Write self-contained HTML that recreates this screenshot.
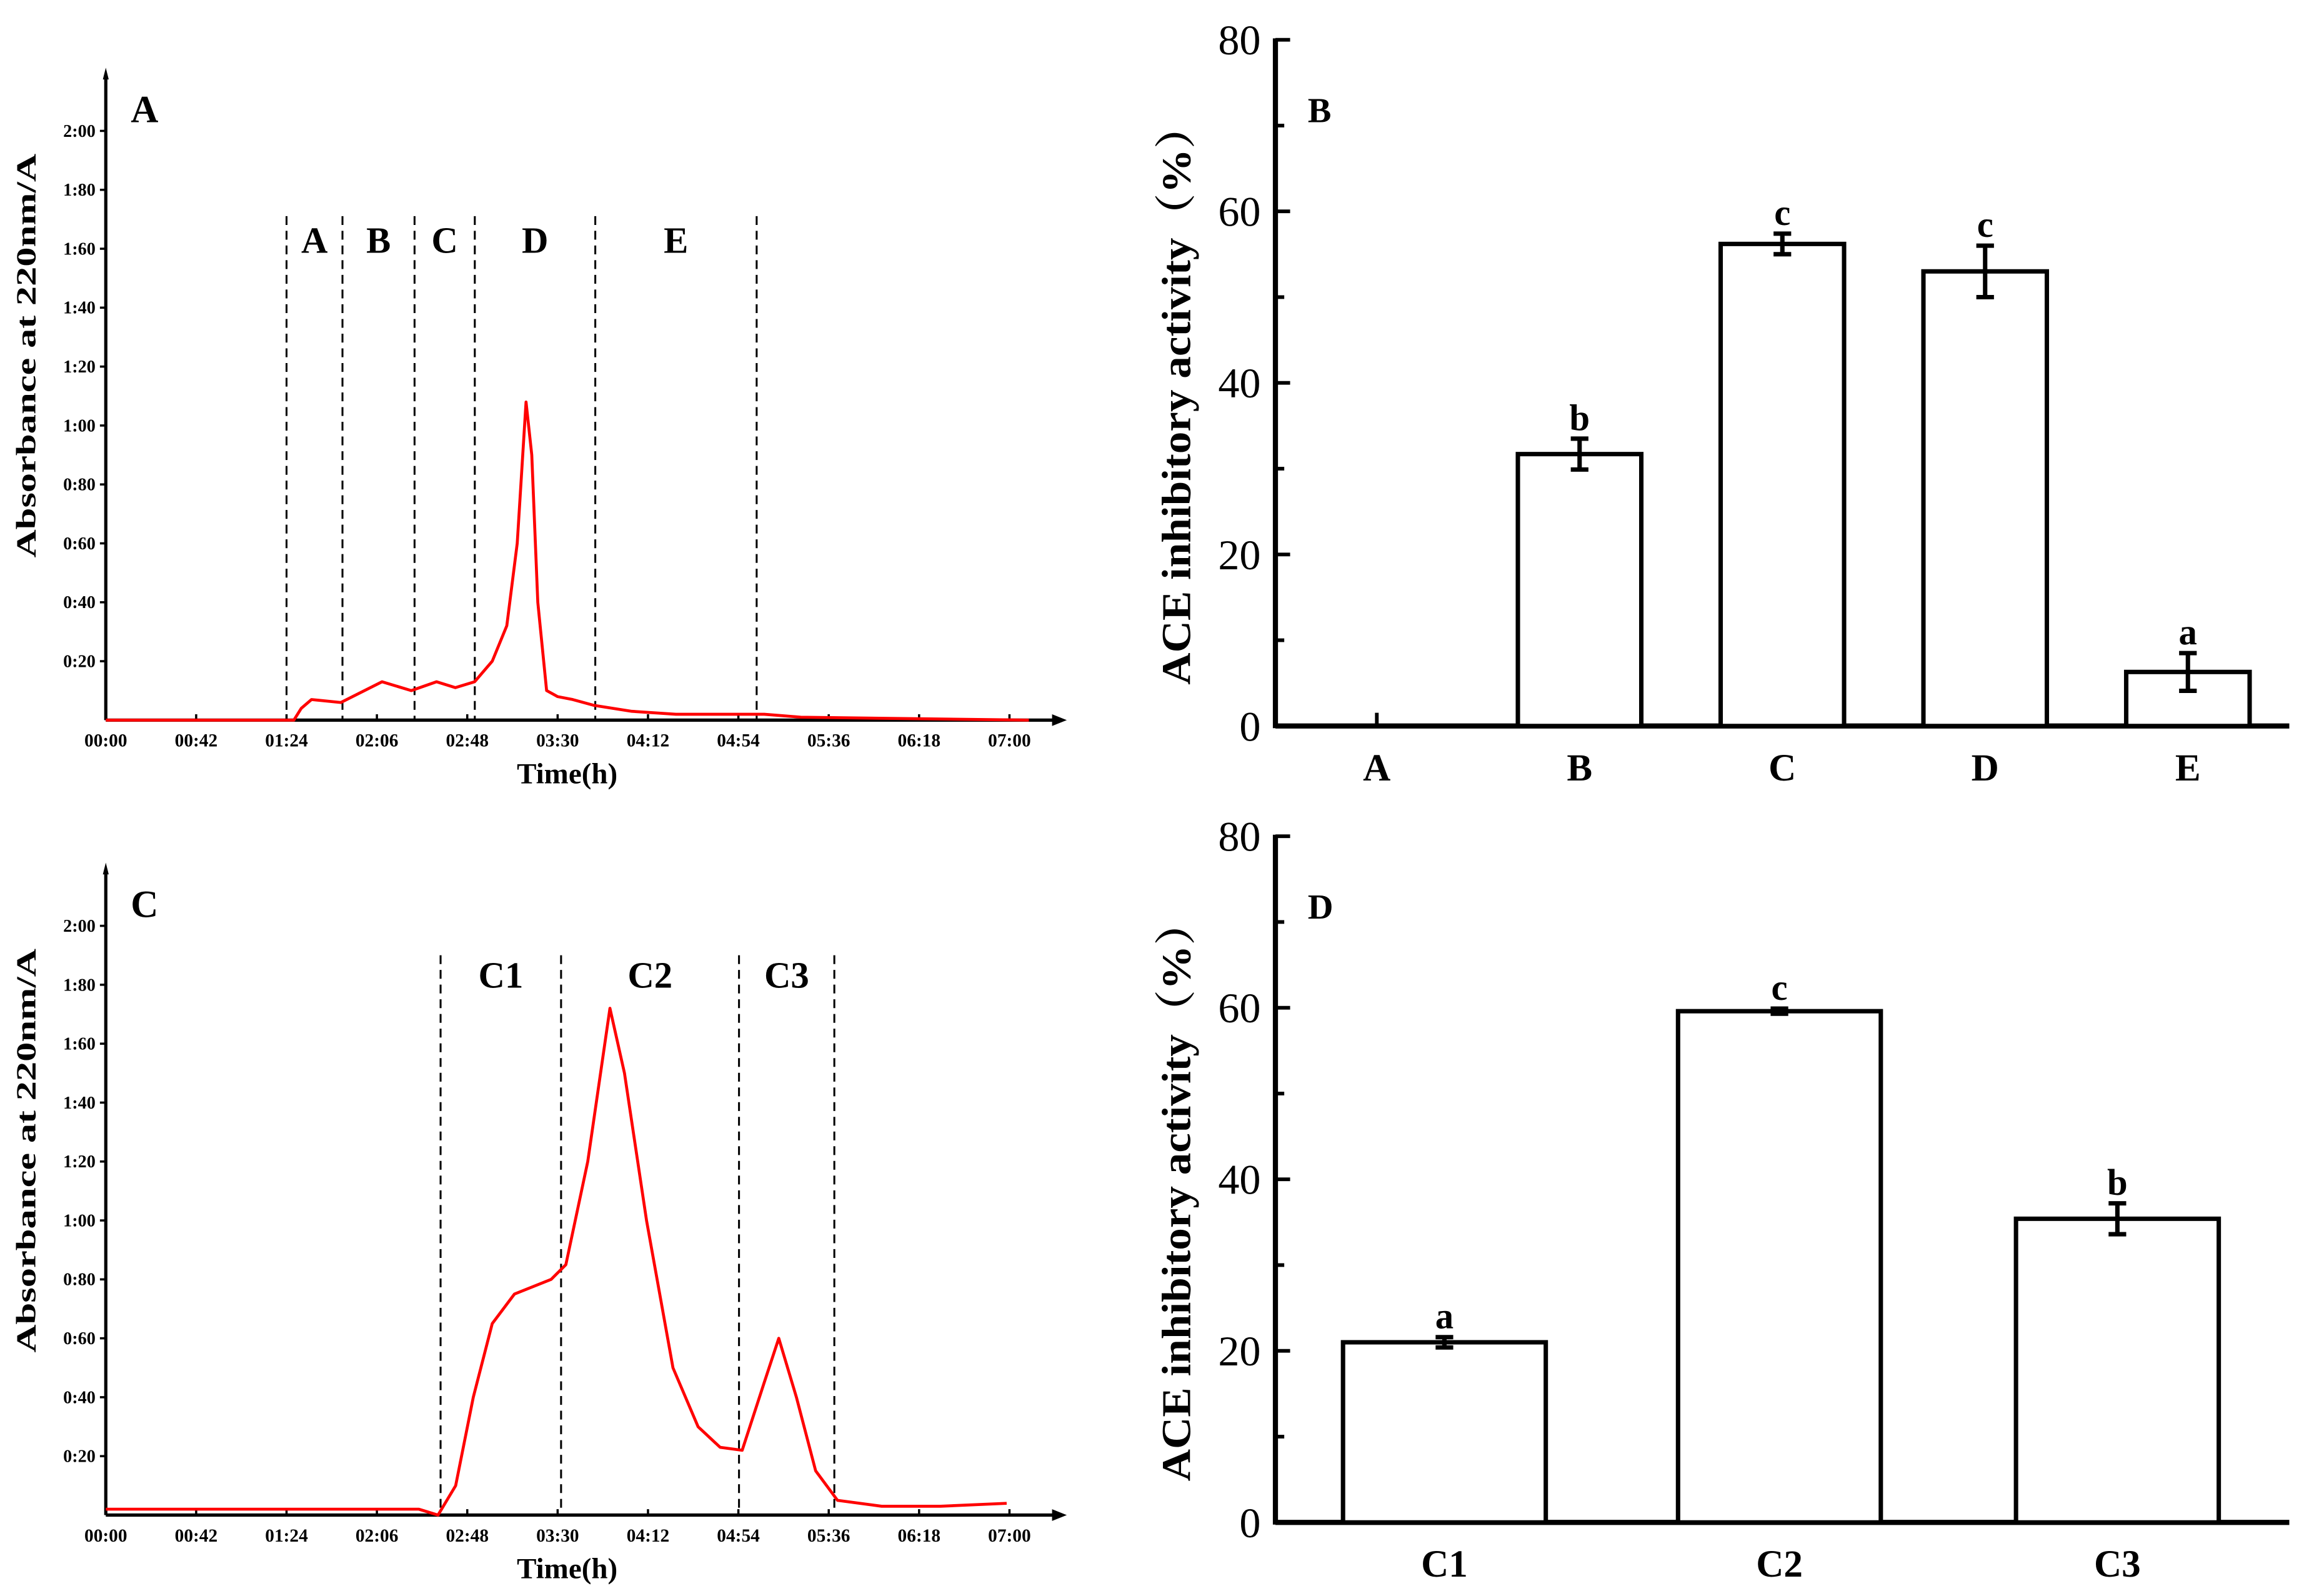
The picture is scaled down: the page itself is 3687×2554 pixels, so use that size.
<!DOCTYPE html>
<html><head><meta charset="utf-8"><style>
html,body{margin:0;padding:0;background:#fff}
svg{display:block;font-family:"Liberation Serif","Noto Serif CJK SC",serif}
</style></head><body>
<svg id="fig" width="3687" height="2554" viewBox="0 0 1568 1086" xmlns="http://www.w3.org/2000/svg">
<rect width="1568" height="1086" fill="#fff"/>
</svg>
<script>
// Panel A chromatogram data (time in minutes, absorbance)
const aTimes = [0, 87.4, 90.8, 95.6, 109.3, 128.4, 142, 153.7, 162.5, 171.4, 179.6, 186.4, 191.2, 195.3, 198, 200.8, 204.9, 210, 217, 227, 244.5, 265, 306, 323, 374, 429];
const aValues = [0, 0, 0.04, 0.07, 0.06, 0.13, 0.10, 0.13, 0.11, 0.13, 0.2, 0.32, 0.6, 1.08, 0.9, 0.4, 0.1, 0.08, 0.07, 0.05, 0.03, 0.02, 0.02, 0.01, 0.005, 0];
const aCuts = [84, 110, 143.5, 171.5, 227.5, 302.5];
const aRegions = ["A","B","C","D","E"];
// Panel C chromatogram data
const cTimes = [0, 145.5, 154.4, 162.6, 170.8, 179.6, 189.9, 207, 213.8, 224, 234.3, 241.1, 251.3, 263.6, 275.3, 285.5, 295.8, 306, 312.8, 321, 329.9, 340.1, 360.6, 388, 418.7];
const cValues = [0.02, 0.02, 0, 0.1, 0.4, 0.65, 0.75, 0.8, 0.85, 1.2, 1.72, 1.5, 1.0, 0.5, 0.3, 0.23, 0.22, 0.45, 0.6, 0.4, 0.15, 0.05, 0.03, 0.03, 0.04];
const cCuts = [155.6, 211.6, 294.3, 338.6];
const cRegions = ["C1","C2","C3"];
const timeTicks = ["00:00","00:42","01:24","02:06","02:48","03:30","04:12","04:54","05:36","06:18","07:00"];
const absTicks = ["0:20","0:40","0:60","0:80","1:00","1:20","1:40","1:60","1:80","2:00"];
// Panel B bar data
const bCats = ["A","B","C","D","E"];
const bVals = [0, 31.7, 56.2, 53, 6.3];
const bErrs = [0, 1.8, 1.2, 3, 2.2];
const bSig = ["", "b", "c", "c", "a"];
// Panel D bar data
const dCats = ["C1","C2","C3"];
const dVals = [21, 59.6, 35.4];
const dErrs = [0.6, 0.3, 1.8];
const dSig = ["a", "c", "b"];
const pctTicks = [0, 20, 40, 60, 80];

const svg = document.getElementById('fig');
const NS = 'http://www.w3.org/2000/svg';
function mk(tag, attrs, parent, text) {
  const e = document.createElementNS(NS, tag);
  for (const k in attrs) e.setAttribute(k, attrs[k]);
  if (text !== undefined) e.textContent = text;
  (parent || svg).appendChild(e);
  return e;
}

function chrom(oy, times, vals, cuts, regions, cutTop, labelY, letter, name) {
  const g = mk('g', {});
  
  
  const x0 = 72, y0 = oy;
  const X = t => x0 + t * 61.5 / 42;
  const Y = v => y0 - v * 200.5;
  const ax = mk('line', {x1: x0, y1: y0, x2: 718, y2: y0, stroke: '#000', 'stroke-width': 2.2}, g);
  
  
  mk('path', {d: `M716 ${y0-4} L726 ${y0} L716 ${y0+4}Z`, fill: '#000'}, g);
  const ay = mk('line', {x1: x0, y1: y0, x2: x0, y2: y0 - 438, stroke: '#000', 'stroke-width': 2.2}, g);
  
  
  mk('path', {d: `M${x0-2} ${y0-436} L${x0} ${y0-444} L${x0+2} ${y0-436}Z`, fill: '#000'}, g);
  timeTicks.forEach((lab, i) => {
    const x = X(i * 42);
    mk('line', {x1: x, y1: y0, x2: x, y2: y0 - 4, stroke: '#000', 'stroke-width': 1.5}, g);
    const t = mk('text', {x: x, y: y0 + 18, 'font-size': 12.5, 'font-weight': 'bold', 'text-anchor': 'middle'}, g, lab);
    
    
  });
  absTicks.forEach((lab, i) => {
    const y = Y((i + 1) * 0.2);
    mk('line', {x1: x0, y1: y, x2: x0 - 4, y2: y, stroke: '#000', 'stroke-width': 1.5}, g);
    const t = mk('text', {x: x0 - 7, y: y + 4, 'font-size': 12, 'font-weight': 'bold', 'text-anchor': 'end'}, g, lab);
    
    
  });
  const xt = mk('text', {x: 386, y: y0 + 43, 'font-size': 20, 'font-weight': 'bold', 'text-anchor': 'middle'}, g, 'Time(h)');
  
  
  const yt = mk('text', {x: 0, y: 0, 'font-size': 19, 'font-weight': 'bold', 'text-anchor': 'middle', textLength: 275, lengthAdjust: 'spacingAndGlyphs', transform: `translate(24 ${y0-248}) rotate(-90)`}, g, 'Absorbance at 220nm/A');
  
  
  const pl = mk('text', {x: 89, y: y0 - 407, 'font-size': 26, 'font-weight': 'bold'}, g, letter);
  
  
  cuts.forEach(t => {
    const l = mk('line', {x1: X(t), y1: cutTop, x2: X(t), y2: y0, stroke: '#000', 'stroke-width': 1.3, 'stroke-dasharray': '6,4'}, g);
    
    
  });
  regions.forEach((r, i) => {
    const t = mk('text', {x: (X(cuts[i]) + X(cuts[i + 1])) / 2, y: labelY, 'font-size': 25, 'font-weight': 'bold', 'text-anchor': 'middle'}, g, r);
    
    
  });
  const d = times.map((t, i) => (i ? 'L' : 'M') + X(t).toFixed(1) + ' ' + Y(vals[i]).toFixed(1)).join(' ');
  const p = mk('path', {d: d, fill: 'none', stroke: '#f00', 'stroke-width': 2, 'stroke-linejoin': 'round'}, g);
  
  
}

function bars(y0, y80, cats, vals, errs, sig, centers, bw, letter, name) {
  const g = mk('g', {});
  
  
  const x0 = 868;
  const Y = v => y0 - (y0 - y80) * v / 80;
  const ax = mk('line', {x1: x0, y1: y0, x2: 1558, y2: y0, stroke: '#000', 'stroke-width': 3.5}, g);
  
  
  const ay = mk('line', {x1: x0, y1: y0 + 1.5, x2: x0, y2: y80 - 1, stroke: '#000', 'stroke-width': 3.5}, g);
  
  
  for (let v = 0; v <= 80; v += 10) {
    const major = v % 20 === 0;
    mk('line', {x1: x0, y1: Y(v), x2: x0 + (major ? 10 : 6), y2: Y(v), stroke: '#000', 'stroke-width': 2.5}, g);
  }
  pctTicks.forEach(v => {
    const t = mk('text', {x: x0 - 10, y: Y(v) + 10, 'font-size': 29, 'text-anchor': 'end'}, g, String(v));
    
    
  });
  const yt = mk('text', {x: 0, y: 0, 'font-size': 28, 'font-weight': 'bold', 'text-anchor': 'middle', textLength: 395, lengthAdjust: 'spacingAndGlyphs', transform: `translate(810 ${(y0 + y80) / 2 + 8}) rotate(-90)`}, g, 'ACE inhibitory activity（%）');
  
  
  const pl = mk('text', {x: 890, y: y80 + 56, 'font-size': 24, 'font-weight': 'bold'}, g, letter);
  
  
  cats.forEach((c, i) => {
    const cx = centers[i];
    mk('line', {x1: cx, y1: y0, x2: cx, y2: y0 - 9, stroke: '#000', 'stroke-width': 2.5}, g);
    if (vals[i] > 0) {
      const b = mk('rect', {x: cx - bw / 2, y: Y(vals[i]), width: bw, height: y0 - Y(vals[i]), fill: '#fff', stroke: '#000', 'stroke-width': 3}, g);
      
      
      const eh = Y(vals[i] + errs[i]), el = Y(vals[i] - errs[i]);
      const e = mk('path', {d: `M${cx} ${eh} L${cx} ${el} M${cx - 6} ${eh} L${cx + 6} ${eh} M${cx - 6} ${el} L${cx + 6} ${el}`, stroke: '#000', 'stroke-width': 3, fill: 'none'}, g);
      
      
      const s = mk('text', {x: cx, y: eh - 6, 'font-size': 25, 'font-weight': 'bold', 'text-anchor': 'middle'}, g, sig[i]);
      
      
    }
    const t = mk('text', {x: cx, y: y0 + 37, 'font-size': 26, 'font-weight': 'bold', 'text-anchor': 'middle'}, g, c);
    
    
  });
}

chrom(490, aTimes, aValues, aCuts, aRegions, 147, 172, 'A', 'panel-a-chromatogram');
chrom(1031, cTimes, cValues, cCuts, cRegions, 650, 672, 'C', 'panel-c-chromatogram');
bars(494, 27, bCats, bVals, bErrs, bSig, [937, 1075, 1213, 1351, 1489], 84, 'B', 'panel-b-bar-chart');
bars(1036, 569, dCats, dVals, dErrs, dSig, [983, 1211, 1441], 138, 'D', 'panel-d-bar-chart');
</script>
</body></html>
